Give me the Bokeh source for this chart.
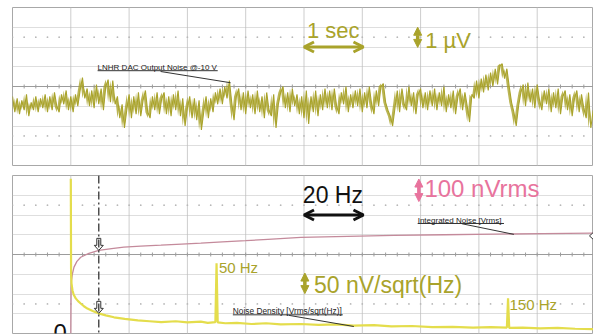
import numpy as np
from bokeh.plotting import figure
from bokeh.layouts import column
from bokeh.models import Range1d, Label, Arrow, OpenHead, NormalHead, Span, Grid, FixedTicker
from bokeh.embed import file_html
from bokeh.resources import INLINE

# ---------------- data ----------------
# C1: DAC output noise, 1 s/div, 1 uV/div (sample spacing 0.04 s)
noise_dt_s = 0.04
noise_uV = [
    -0.5, -1.3, -0.6, -1.4, -0.7, -1.2, -0.4, -1.5, -0.8, -1.2, -0.5, -1.3, -0.6,
    -1.1, -0.4, -1.3, -0.5, -1.2, -0.3, -1.0, -1.3, -0.4, -0.9, -0.2, -1.2, -0.5, -1.3, -0.4,
    -1.0, -0.2, 0.45, -0.6, -0.1, -1.0,
    -0.2, -1.1, 0.1, -0.9, -0.1, -1.2, 0.0, 0.35, -0.8, 0.3, -0.9,
    -0.5, -1.6, -0.9, -2.1, -1.2,
    -0.4, -1.6, -0.5, -1.4, -0.3, -1.5, -0.7, -0.2, -1.3, -1.6, -0.5, -1.2, -0.3, -1.4, -0.6,
    -0.3, -1.4, -0.5, -1.5, -0.4, -1.2, -0.2, -1.5, -0.6, -2.0, -1.1, -0.5,
    -1.6, -0.6, -1.7, -0.7, -2.2, -1.3, -0.5, -1.6, -0.6, -1.3, -0.3,
    -0.9, -0.1, -0.9, 0.0, -0.6, 0.3, -0.8,
    -1.7, -0.5, -0.1, -1.2, -0.3, -1.4, -0.2, -1.1,
    -0.4, -1.4, -0.2, -1.3, -0.5, -1.6, -0.3, -1.2, -1.5, -0.4, -2.1, -0.9, -0.3,
    0.0, -1.1, -0.3, -1.3, -0.1, -1.0, -0.4, -1.4, -0.5,
    -1.6, -0.2, -1.9, -0.5, -1.3, -0.2, -1.5, -0.4, -1.2, -0.1,
    -1.1, -0.2, -1.2, -0.1, -1.0, -1.4, -0.3, -0.9, 0.0, -1.3, -0.4, -1.1, -0.2,
    -1.0, -0.1, -1.3, -0.3, -1.1, 0.0, -0.9, -1.4, -0.2, -1.0, 0.0, 0.15, -0.8, -1.2, -1.5, -2.0,
    -1.1, -0.2, -1.3, -0.1, -0.9, -1.2, 0.0, -1.0, -0.3, -1.4, -0.4, -0.1, -1.1, -0.3, -1.2, -0.2, -1.0,
    -0.1, -1.2, -0.3, -1.0, 0.0, -1.3, -0.4, -1.1, -0.2, -1.4, -0.5, -0.1, -1.2, -0.3, -1.0, -1.8, -0.4,
    -0.6, 0.3, -0.6, 0.4, -0.3, 0.6, -0.2, 0.7, 0.0, 0.9, 0.1, 1.05,
    1.15, 0.4, 0.9, 0.0,
    -0.8, -1.3, -2.0, -1.0, -0.3,
    0.1, -1.0, 0.2, -0.8, -0.1, -1.1, 0.1, -0.7, -1.2, -0.2, -0.9, -0.1,
    -1.3, -0.3, -1.1, -0.1, -1.4, -0.5, -0.2, -1.2, -0.4, -1.5, -0.6, -0.2, -1.3, -0.4, -1.1, -1.6, -0.3, -2.1, -1.2,
]
time_s = [round(i * noise_dt_s, 3) for i in range(len(noise_uV))]

# F2: noise density [nV/sqrt(Hz)] and integrated noise [nVrms] vs frequency
nd_freq_hz = [0.0, 0.1, 0.24, 0.58, 1.0, 1.7, 2.5, 3.4, 4.5, 5.7,
              7.5, 9.6, 12.0, 14.8, 18.5, 23.0, 27.0, 31.0, 36.0, 40.0,
              44.6, 47.0, 49.6, 50.0, 50.4, 53.0, 57.0, 62.0, 67.0, 72.0,
              79.0, 85.0, 91.0, 97.0, 104.0, 110.0, 117.0, 124.0, 131.0, 138.0,
              144.0, 149.6, 150.0, 150.4, 155.0, 161.0, 167.0, 173.0, 179.3]
nd_nv = [392, 150, 127, 109, 98, 89, 82, 76, 69, 63,
         57, 51, 46, 41, 37, 33, 31, 29, 31, 28,
         30, 27, 29, 178, 28, 26, 27, 24, 26, 23,
         24, 22, 23, 20, 21, 18, 19, 16, 17, 15,
         16, 15, 89, 14, 15, 13, 14, 12, 11]

int_freq_hz = [0.0, 0.1, 0.24, 0.6, 1.1, 2.1, 3.4, 6.2, 9.6, 14.0,
               18.2, 24.0, 30.9, 38.0, 44.6, 52.0, 60.0, 67.6, 78.9, 95.0,
               110.8, 128.0, 145.0, 162.0, 179.3]
int_nv = [0, 230, 269, 305, 336, 365, 386, 406, 421, 430,
          437, 442, 447, 453, 458, 464, 470, 477, 487, 492,
          497, 500, 503, 506, 508]

cursor_hz = 9.6
time_div = [1, 2, 3, 4, 5, 6, 7, 8, 9]             # 1 s / div
freq_div = [0, 20, 40, 60, 80, 100, 120, 140, 160]  # 20 Hz / div
uv_div = [-3, -2, -1, 1, 2, 3]                      # 1 uV / div
nd_div = [50, 100, 150, 250, 300, 350]              # 50 nV/sqrt(Hz) / div

# ---------------- style ----------------
OLIVE = "#a9a32b"
YELLOW = "#e4dd4c"
PINK_LINE = "#c48a9b"
PINK_TEXT = "#e8739d"
VGRID = "#cdcdcd"
HGRID = "#bdbdbd"
FONT = "Liberation Sans"

W = 593
FRAME_W = 581
PX_DIV = 58.3
NDIV = FRAME_W / PX_DIV


def base_fig(xr, yr, h, top, bottom):
    p = figure(width=W, height=h, x_range=xr, y_range=yr, output_backend="svg",
               toolbar_location=None, x_axis_type=None, y_axis_type=None, title=None,
               min_border_left=12, min_border_right=0, min_border_top=top,
               min_border_bottom=bottom, background_fill_color="white",
               border_fill_color="white", outline_line_color="#a8a8a8",
               outline_line_width=1)
    return p


def decorate(p, xticks, yticks, center, x0, x1, xstep, tick_half, dot_rows):
    for xt in xticks:
        p.add_layout(Span(location=xt, dimension="height", line_color=VGRID,
                          line_width=1, level="underlay"))
    p.add_layout(Grid(dimension=1, ticker=FixedTicker(ticks=yticks),
                      grid_line_color=HGRID, grid_line_dash="1 1"))
    p.add_layout(Span(location=center, dimension="width", line_color="#9c9c9c",
                      line_width=1, level="underlay"))
    mx = np.arange(x0, x1, xstep)
    p.segment(x0=mx, x1=mx, y0=center - tick_half, y1=center + tick_half,
              line_color="#9c9c9c", line_width=1)
    for r in dot_rows:
        p.scatter(x=mx, y=np.full(len(mx), r), size=1.8, marker="circle",
                  fill_color="#b8b8b8", line_color=None)


def lab(p, x, y, text, size, color, font=FONT):
    p.add_layout(Label(x=x, y=y, text=text, text_font=font, text_font_size=f"{size}px",
                       text_color=color, text_baseline="alphabetic",
                       y_offset=round(0.3 * size)))


# ---------------- top panel (C1) ----------------
p1 = base_fig(Range1d(0, NDIV), Range1d(-4, 4), 170, 7, 5)
decorate(p1, time_div, uv_div, 0, 0, NDIV, 0.2, 0.1, [2.5, -2.5])
# dense scope trace: band between successive samples plus the trace itself
p1.varea(x=time_s[:-1], y1=noise_uV[:-1], y2=noise_uV[1:], fill_color=OLIVE, fill_alpha=0.8)
p1.line(time_s, noise_uV, line_color=OLIVE, line_width=1.1)

lab(p1, 5.05, 2.5, "1 sec", 22, OLIVE)
p1.add_layout(Arrow(x_start=5.0, x_end=6.02, y_start=2.0, y_end=2.0,
                    start=OpenHead(size=10, line_width=3, line_color=OLIVE),
                    end=OpenHead(size=10, line_width=3, line_color=OLIVE),
                    line_color=OLIVE, line_width=3))
p1.add_layout(Arrow(x_start=6.95, x_end=6.95, y_start=1.98, y_end=3.0,
                    start=NormalHead(size=8, line_color=OLIVE, fill_color=OLIVE),
                    end=NormalHead(size=8, line_color=OLIVE, fill_color=OLIVE),
                    line_color=OLIVE, line_width=3.5))
lab(p1, 7.08, 1.97, "1 µV", 22, OLIVE)

lab(p1, 1.46, 0.88, "LNHR DAC Output Noise @-10 V", 8, "#222222")
p1.segment(x0=[1.46], x1=[3.52], y0=[0.8], y1=[0.8], line_color="#333333", line_width=1)
p1.segment(x0=[2.54], x1=[3.74], y0=[0.76], y1=[0.19], line_color="#333333", line_width=1)
lab(p1, -0.17, 0.25, "C1", 7, OLIVE)

# ---------------- bottom panel (F2) ----------------
p2 = base_fig(Range1d(-20, -20 + NDIV * 20), Range1d(0, 400), 165, 5, 2)
p2.extra_y_ranges = {"integ": Range1d(0, 800)}
decorate(p2, freq_div, nd_div, 200, -20, -20 + NDIV * 20, 4, 5, [325, 75])

p2.line(int_freq_hz, int_nv, y_range_name="integ", line_color=PINK_LINE, line_width=1.3)
p2.line(nd_freq_hz, nd_nv, line_color=YELLOW, line_width=2.2)

p2.add_layout(Span(location=cursor_hz, dimension="height", line_color="#333333",
                   line_width=1.3, line_dash="8 3 2 3"))

# hollow cursor arrow markers (pixel-sized shapes converted to data units)
HZ_PX = 20 / PX_DIV
ND_PX = 400 / 158
IN_PX = 800 / 158


def down_arrow(fx, fy, ypx):
    ox = [0, -4.5, -2, -2, 2, 2, 4.5]
    oy = [0, 5, 5, 12, 12, 5, 5]
    return [fx + a * HZ_PX for a in ox], [fy + b * ypx for b in oy]


def left_arrow(fx, fy, ypx):
    ox = [0, 5, 5, 12, 12, 5, 5]
    oy = [0, 4.5, 2, 2, -2, -2, -4.5]
    return [fx + a * HZ_PX for a in ox], [fy + b * ypx for b in oy]


nd_at_cursor = nd_nv[nd_freq_hz.index(cursor_hz)]
int_at_cursor = int_nv[int_freq_hz.index(cursor_hz)]
ax, ay = down_arrow(cursor_hz, nd_at_cursor, ND_PX)
p2.patch(ax, ay, fill_color="white", line_color="#333333", line_width=1)
ax, ay = down_arrow(cursor_hz, int_at_cursor, IN_PX)
p2.patch(ax, ay, fill_color="white", line_color="#333333", line_width=1, y_range_name="integ")
ax, ay = left_arrow(int_freq_hz[-1] - 4 * HZ_PX, int_nv[-1] - 14, IN_PX)
p2.patch(ax, ay, fill_color="white", line_color="#333333", line_width=1, y_range_name="integ")

lab(p2, 79.6, 332, "20 Hz", 23, "#111111")
p2.add_layout(Arrow(x_start=80, x_end=100.4, y_start=300, y_end=300,
                    start=OpenHead(size=10, line_width=3, line_color="#111111"),
                    end=OpenHead(size=10, line_width=3, line_color="#111111"),
                    line_color="#111111", line_width=3))
p2.add_layout(Arrow(x_start=119.4, x_end=119.4, y_start=334, y_end=391,
                    start=NormalHead(size=8, line_color=PINK_TEXT, fill_color=PINK_TEXT),
                    end=NormalHead(size=8, line_color=PINK_TEXT, fill_color=PINK_TEXT),
                    line_color=PINK_TEXT, line_width=3.5))
lab(p2, 121.3, 349, "100 nVrms", 24, PINK_TEXT)

lab(p2, 119.0, 282, "Integrated Noise [Vrms]", 8, "#222222")
p2.segment(x0=[119.0], x1=[148.6], y0=[278.5], y1=[278.5], line_color="#333333", line_width=1)
p2.segment(x0=[134.1], x1=[152.0], y0=[278.0], y1=[251.0], line_color="#333333", line_width=1)

p2.add_layout(Arrow(x_start=80.3, x_end=80.3, y_start=101, y_end=153,
                    start=NormalHead(size=8, line_color=OLIVE, fill_color=OLIVE),
                    end=NormalHead(size=8, line_color=OLIVE, fill_color=OLIVE),
                    line_color=OLIVE, line_width=3.5))
lab(p2, 83.4, 106, "50 nV/sqrt(Hz)", 23, OLIVE)

lab(p2, 50.8, 157, "50 Hz", 15, OLIVE)
lab(p2, 150.5, 63, "150 Hz", 15, OLIVE)

lab(p2, 55.6, 51.5, "Noise Density [Vrms/sqrt(Hz)]", 8.3, "#222222")
p2.segment(x0=[55.6], x1=[93.3], y0=[47.3], y1=[47.3], line_color="#333333", line_width=1)
p2.segment(x0=[74.8], x1=[97.1], y0=[46.0], y1=[17.7], line_color="#333333", line_width=1)

lab(p2, -5.9, -15, "0", 24, "#111111")
lab(p2, -23.4, 10, "F2", 7, "#cc3333")

layout = column(p1, p2, spacing=0)
open("out.html", "w").write(file_html(layout, INLINE))
